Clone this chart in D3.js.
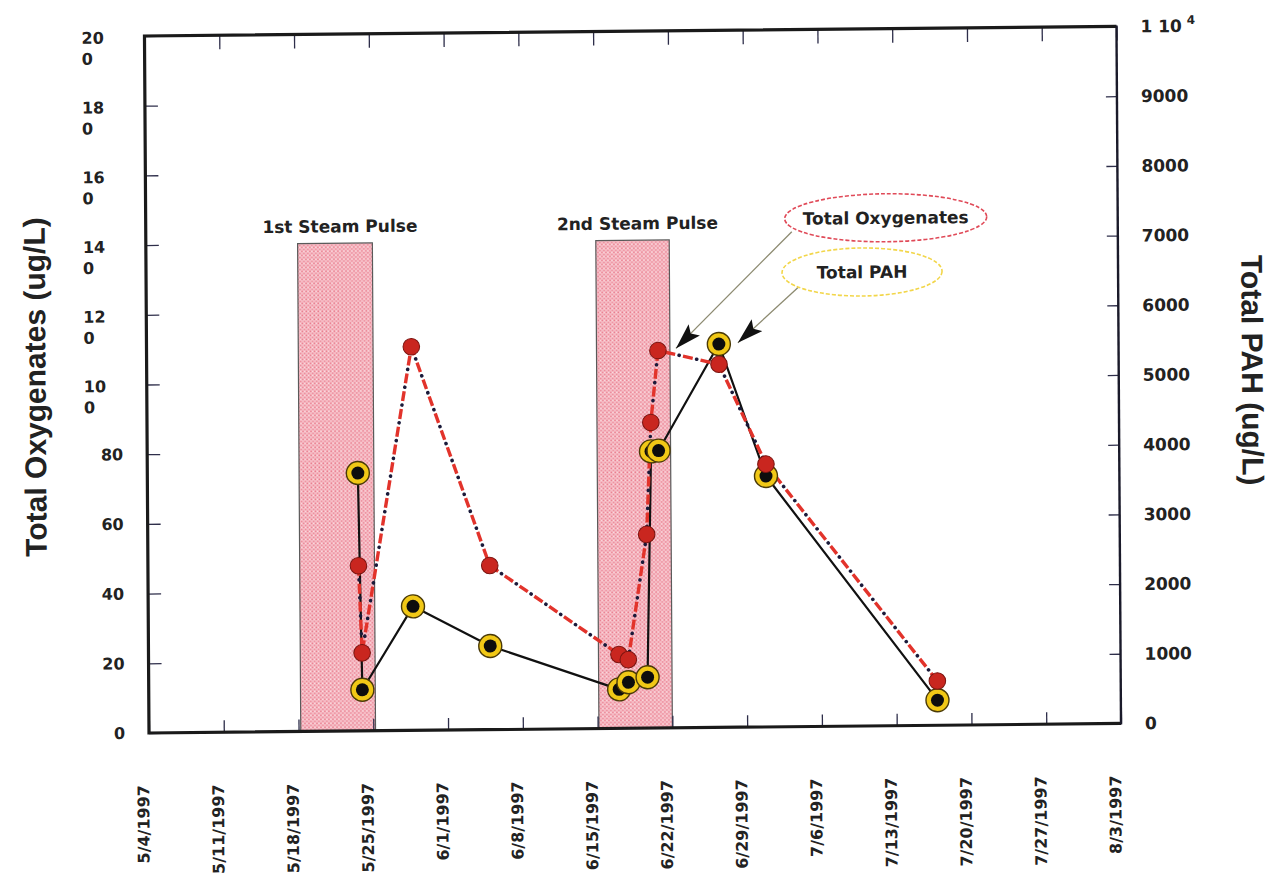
<!DOCTYPE html>
<html>
<head>
<meta charset="utf-8">
<script src="https://cdn.jsdelivr.net/npm/d3@7"></script>
<style>
  html, body { margin: 0; padding: 0; background: #ffffff; }
  svg { display: block; }
</style>
</head>
<body>
<svg id="chart" width="1269" height="874"></svg>
<script>
// ---- data -------------------------------------------------------------
const sampleTimes = [
  "1997-05-23 17:00", "1997-05-24 00:00", "1997-05-28 19:00", "1997-06-05 00:00",
  "1997-06-17 01:00", "1997-06-17 22:00", "1997-06-19 17:00", "1997-06-20 04:00",
  "1997-06-20 21:00", "1997-06-26 14:00", "1997-06-30 22:00", "1997-07-16 20:00"
];
// Total oxygenates, ug/L (left axis)
const oxygenates = [47.4, 22.4, 110.1, 47.1, 21.2, 19.7, 55.6, 87.7, 108.3, 104.2, 75.4, 12.7];
// Total PAH, ug/L (right axis)
const pah = [3700, 590, 1780, 1200, 560, 660, 730, 3970, 3980, 5500, 3600, 360];

const pulseLabels = ["1st Steam Pulse", "2nd Steam Pulse"];
const pulseStarts = ["1997-05-18 05:00", "1997-06-15 03:00"];
const pulseEnds   = ["1997-05-25 05:00", "1997-06-22 00:00"];
const pulseHeight = 140;   // in left-axis units

const dateTicks = ["5/4/1997", "5/11/1997", "5/18/1997", "5/25/1997", "6/1/1997", "6/8/1997",
  "6/15/1997", "6/22/1997", "6/29/1997", "7/6/1997", "7/13/1997", "7/20/1997", "7/27/1997", "8/3/1997"];
const leftTicks  = [0, 20, 40, 60, 80, 100, 120, 140, 160, 180, 200];
const rightTicks = [0, 1000, 2000, 3000, 4000, 5000, 6000, 7000, 8000, 9000, 10000];
const legendLabels = ["Total Oxygenates", "Total PAH"];
const leftTitle = "Total Oxygenates (ug/L)";
const rightTitle = "Total PAH (ug/L)";

// ---- setup ------------------------------------------------------------
const parseSample = d3.timeParse("%Y-%m-%d %H:%M");
const parseTick = d3.timeParse("%m/%d/%Y");
const samples = sampleTimes.map((t, i) => ({ date: parseSample(t), oxy: oxygenates[i], pah: pah[i] }));
const pulses = pulseLabels.map((l, i) => ({ label: l, start: parseSample(pulseStarts[i]), end: parseSample(pulseEnds[i]) }));

const plot = { left: 149, right: 1121, top: 36, bottom: 733 };
const tickFont = "'DejaVu Sans', Verdana, sans-serif";
const titleFont = "'Liberation Sans', Arial, Helvetica, sans-serif";

const x = d3.scaleTime()
  .domain([parseTick(dateTicks[0]), parseTick(dateTicks[dateTicks.length - 1])])
  .range([plot.left, plot.right]);
const yL = d3.scaleLinear().domain([0, 200]).range([plot.bottom, plot.top]);
const yR = d3.scaleLinear().domain([0, 10000]).range([plot.bottom, plot.top]);

const svg = d3.select("#chart");
const defs = svg.append("defs");

// stippled pink fill for the steam pulse bands
const pat = defs.append("pattern").attr("id", "stipple")
  .attr("width", 4).attr("height", 4).attr("patternUnits", "userSpaceOnUse");
pat.append("rect").attr("width", 4).attr("height", 4).attr("fill", "#f6bcc5");
pat.append("circle").attr("cx", 1).attr("cy", 1).attr("r", 0.8).attr("fill", "#e97b8c");
pat.append("circle").attr("cx", 3).attr("cy", 3).attr("r", 0.8).attr("fill", "#ea8797");
pat.append("circle").attr("cx", 3).attr("cy", 1).attr("r", 0.6).attr("fill", "#fde8eb");

defs.append("marker").attr("id", "arrowHead")
  .attr("markerUnits", "userSpaceOnUse")
  .attr("viewBox", "0 0 26 16").attr("refX", 26).attr("refY", 8)
  .attr("markerWidth", 26).attr("markerHeight", 16).attr("orient", "auto")
  .append("path").attr("d", "M0,0 L26,8 L0,16 L5,8 Z").attr("fill", "#111");

// the whole sheet sits with a slight skew
const g = svg.append("g")
  .attr("transform", "matrix(1,-0.0098,0.0065,1,-4.76,1.46)");

// ---- steam pulse bands ----------------------------------------------------
g.selectAll("rect.pulse").data(pulses).join("rect")
  .attr("class", "pulse")
  .attr("x", d => x(d.start))
  .attr("width", d => x(d.end) - x(d.start))
  .attr("y", yL(pulseHeight))
  .attr("height", yL(0) - yL(pulseHeight))
  .attr("fill", "url(#stipple)")
  .attr("stroke", "#5a5a5a").attr("stroke-width", 1.2);

g.selectAll("text.pulse-label").data(pulses).join("text")
  .attr("class", "pulse-label")
  .attr("x", d => (x(d.start) + x(d.end)) / 2 + 5)
  .attr("y", yL(pulseHeight) - 17)
  .attr("dy", "0.36em")
  .attr("text-anchor", "middle")
  .attr("font-family", tickFont).attr("font-weight", "bold").attr("font-size", 17)
  .attr("fill", "#222")
  .text(d => d.label);

// ---- axes ------------------------------------------------------------------
const tickColor = "#2e2e4a";
function styleAxis(sel) {
  sel.select(".domain").remove();
  sel.selectAll(".tick line").attr("stroke", tickColor).attr("stroke-width", 1.3);
  sel.selectAll(".tick text").remove();
}
g.append("g").attr("transform", `translate(${plot.left},0)`)
  .call(d3.axisRight(yL).tickValues(leftTicks).tickSize(13).tickFormat(""))
  .call(styleAxis);
g.append("g").attr("transform", `translate(${plot.right},0)`)
  .call(d3.axisLeft(yR).tickValues(rightTicks).tickSize(11).tickFormat(""))
  .call(styleAxis);
const tickDates = dateTicks.map(parseTick);
g.append("g").attr("transform", `translate(0,${plot.top})`)
  .call(d3.axisBottom(x).tickValues(tickDates).tickSize(14).tickFormat(""))
  .call(styleAxis);
g.append("g").attr("transform", `translate(0,${plot.bottom})`)
  .call(d3.axisTop(x).tickValues(tickDates).tickSize(12).tickFormat(""))
  .call(styleAxis);

// frame
g.append("path")
  .attr("d", `M${plot.right},${plot.top} L${plot.left},${plot.top} L${plot.left},${plot.bottom} L${plot.right},${plot.bottom}`)
  .attr("fill", "none").attr("stroke", "#1a1a1a").attr("stroke-width", 3.2);
g.append("line")
  .attr("x1", plot.right).attr("x2", plot.right).attr("y1", plot.top - 1).attr("y2", plot.bottom + 1)
  .attr("stroke", "#1a1a2a").attr("stroke-width", 2.4);

// left tick labels: three-digit values wrap their last digit onto a second line
const leftLabels = g.append("g")
  .attr("font-family", tickFont).attr("font-weight", "bold").attr("font-size", 16).attr("fill", "#222");
leftTicks.forEach(v => {
  const s = String(v);
  if (s.length > 2) {
    const t = leftLabels.append("text").attr("x", 86).attr("y", yL(v) + 1.5).attr("dy", "0.36em");
    t.append("tspan").attr("x", 86).text(s.slice(0, 2));
    t.append("tspan").attr("x", 86).attr("dy", 21).text(s.slice(2));
  } else {
    leftLabels.append("text").attr("x", 125).attr("y", yL(v)).attr("dy", "0.36em")
      .attr("text-anchor", "end").text(s);
  }
});

// right tick labels, the top one written as mantissa and power of ten
const rightLabels = g.append("g")
  .attr("font-family", tickFont).attr("font-weight", "bold").attr("font-size", 17).attr("fill", "#222");
rightTicks.forEach(v => {
  const t = rightLabels.append("text").attr("x", 1145).attr("y", yR(v)).attr("dy", "0.36em");
  if (v >= 10000) {
    const p = Math.round(Math.log10(v));
    t.append("tspan").text(`${v / Math.pow(10, p)} 10`);
    t.append("tspan").attr("font-size", 12).attr("dx", 5).attr("dy", -8).text(p);
  } else {
    t.text(v);
  }
});

// date labels under the axis
g.append("g")
  .attr("font-family", tickFont).attr("font-weight", "bold").attr("font-size", 16).attr("fill", "#222")
  .selectAll("text").data(dateTicks).join("text")
  .attr("transform", d => `translate(${x(parseTick(d)) - 6},785) rotate(-90)`)
  .attr("text-anchor", "end").attr("dy", "0.36em")
  .text(d => d);

// axis titles
g.append("text")
  .attr("transform", "translate(37,386) rotate(-90)")
  .attr("text-anchor", "middle").attr("dy", "0.36em")
  .attr("font-family", titleFont).attr("font-weight", "bold").attr("font-size", 30).attr("fill", "#222")
  .text(leftTitle);
g.append("text")
  .attr("transform", "translate(1255,381) rotate(90)")
  .attr("text-anchor", "middle").attr("dy", "0.36em")
  .attr("font-family", titleFont).attr("font-weight", "bold").attr("font-size", 30).attr("fill", "#222")
  .text(rightTitle);

// ---- series ----------------------------------------------------------------
const pahLine = d3.line().x(d => x(d.date)).y(d => yR(d.pah));
const oxyLine = d3.line().x(d => x(d.date)).y(d => yL(d.oxy));

g.append("path").datum(samples)
  .attr("d", pahLine).attr("fill", "none")
  .attr("stroke", "#111").attr("stroke-width", 2.2).attr("stroke-linejoin", "round");

// dash-dot line: red dashes with black dots in the gaps
g.append("path").datum(samples)
  .attr("d", oxyLine).attr("fill", "none")
  .attr("stroke", "#e2332b").attr("stroke-width", 3.4)
  .attr("stroke-dasharray", "10,8");
g.append("path").datum(samples)
  .attr("d", oxyLine).attr("fill", "none")
  .attr("stroke", "#1a1a3a").attr("stroke-width", 3.6).attr("stroke-linecap", "round")
  .attr("stroke-dasharray", "0.1,17.9").attr("stroke-dashoffset", 4);

const pahPts = g.append("g").selectAll("g").data(samples).join("g")
  .attr("transform", d => `translate(${x(d.date)},${yR(d.pah)})`);
pahPts.append("circle").attr("r", 11.5)
  .attr("fill", "#f1c816").attr("stroke", "#4a3a08").attr("stroke-width", 1.4);
pahPts.append("circle").attr("r", 6.5).attr("fill", "#0d0d0d");

g.append("g").selectAll("circle").data(samples).join("circle")
  .attr("cx", d => x(d.date)).attr("cy", d => yL(d.oxy)).attr("r", 8.3)
  .attr("fill", "#c9261f").attr("stroke", "#7a1410").attr("stroke-width", 1);

// ---- callouts --------------------------------------------------------------
const callouts = [
  { label: legendLabels[0], cx: 889, cy: 225, rx: 101, ry: 24, color: "#e04a58",
    sx: -94, sy: 13, tip: samples[8], tipX: x(samples[8].date) + 18, tipY: yL(samples[8].oxy) - 2 },
  { label: legendLabels[1], cx: 865, cy: 279, rx: 80, ry: 24, color: "#f2d64a",
    sx: -63, sy: 14, tip: samples[9], tipX: x(samples[9].date) + 19, tipY: yR(samples[9].pah) - 1 }
];
callouts.forEach(c => {
  g.append("line")
    .attr("x1", c.cx + c.sx).attr("y1", c.cy + c.sy)
    .attr("x2", c.tipX).attr("y2", c.tipY)
    .attr("stroke", "#8c8a70").attr("stroke-width", 1.3)
    .attr("marker-end", "url(#arrowHead)");
  g.append("ellipse")
    .attr("cx", c.cx).attr("cy", c.cy).attr("rx", c.rx).attr("ry", c.ry)
    .attr("fill", "#ffffff").attr("stroke", c.color).attr("stroke-width", 1.6)
    .attr("stroke-dasharray", "4,2");
  g.append("text")
    .attr("x", c.cx).attr("y", c.cy).attr("dy", "0.36em").attr("text-anchor", "middle")
    .attr("font-family", tickFont).attr("font-weight", "bold").attr("font-size", 17).attr("fill", "#222")
    .text(c.label);
});
</script>
</body>
</html>
